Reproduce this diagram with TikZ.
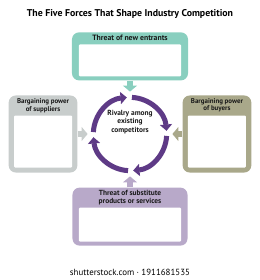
\documentclass[tikz,border=0pt]{standalone}
\usepackage{fontspec}
\setmainfont{PT Sans}
\usetikzlibrary{arrows.meta,positioning,calc}
\definecolor{entrteal}{RGB}{137,207,191}
\definecolor{supgray}{RGB}{200,205,204}
\definecolor{buyolive}{RGB}{169,168,138}
\definecolor{sublilac}{RGB}{184,169,201}
\definecolor{rivalpurple}{RGB}{94,58,134}
\begin{document}
\begin{tikzpicture}[
  font=\fontsize{6.3}{7.2}\selectfont\bfseries, node distance=4.2mm and 3.9mm,
  force/.style={rectangle,rounded corners=2.1mm,fill=#1,inner sep=0pt},
  slot/.style={rectangle,rounded corners=0.3mm,fill=white,inner sep=0pt},
  head/.style={align=center,inner sep=0pt,text=black!90},
  sidehead/.style={head,font=\fontsize{5.9}{6.8}\selectfont\bfseries},
  push/.style={line width=2mm,#1,-{Triangle[width=4.2mm,length=1.8mm]},shorten >=0.9mm},
  spin/.style={line width=1.5mm,rivalpurple,-{Triangle[width=3.6mm,length=1.9mm]}}]
\useasboundingbox (-39mm,-43.8mm) rectangle (39mm,40.2mm);
\node[circle,minimum size=23.5mm,inner sep=0pt] (ring) at (0,0) {};
\node[head] (rival) at ([yshift=3.6mm]ring.center) {Rivalry among\\existing\\competitors};
\node[force=entrteal,minimum width=34.8mm,minimum height=14.4mm,above=of ring] (entr) {};
\node[slot,minimum width=30.6mm,minimum height=9.6mm,above=1.2mm of entr.south] (entrslot) {};
\node[head,font=\fontsize{6.6}{7.5}\selectfont\bfseries] (entrhead) at ($(entr.north)!0.5!(entrslot.north)$) {Threat of new entrants};
\node[force=sublilac,minimum width=34.5mm,minimum height=17.4mm,below=of ring] (subs) {};
\node[slot,minimum width=30.6mm,minimum height=10.2mm,above=1.2mm of subs.south] (subsslot) {};
\node[head] (subshead) at ($(subs.north)!0.5!(subsslot.north)$) {Threat of substitute\\products or services};
\node[force=supgray,minimum width=20.6mm,minimum height=23.1mm,left=of ring] (supp) {};
\node[slot,minimum width=17.4mm,minimum height=15.6mm,above=1.5mm of supp.south] (suppslot) {};
\node[sidehead] (supphead) at ($(supp.north)!0.5!(suppslot.north)$) {Bargaining power\\of suppliers};
\node[force=buyolive,minimum width=20.6mm,minimum height=23.1mm,right=of ring] (buyr) {};
\node[slot,minimum width=17.4mm,minimum height=15.6mm,above=1.5mm of buyr.south] (buyrslot) {};
\node[sidehead] (buyrhead) at ($(buyr.north)!0.5!(buyrslot.north)$) {Bargaining power\\of buyers};
\draw[push=entrteal] (entr.south) -- (ring.north);
\draw[push=sublilac] (subs.north) -- (ring.south);
\draw[push=supgray] (supp.east) -- (ring.west);
\draw[push=buyolive] (buyr.west) -- (ring.east);
\foreach \a in {177,87,-3,-93}{\draw[spin] ([shift={(\a:11mm)}]ring.center) arc[start angle=\a,end angle=\a-82,radius=11mm];}
\node[font=\fontsize{8.4}{10}\selectfont\bfseries] (title) at (0,36mm) {The Five Forces That Shape Industry Competition};
\node[font=\fontsize{7.6}{9}\selectfont] (stock) at (0,-41.4mm) {shutterstock.com · 1911681535};
\end{tikzpicture}
\end{document}
